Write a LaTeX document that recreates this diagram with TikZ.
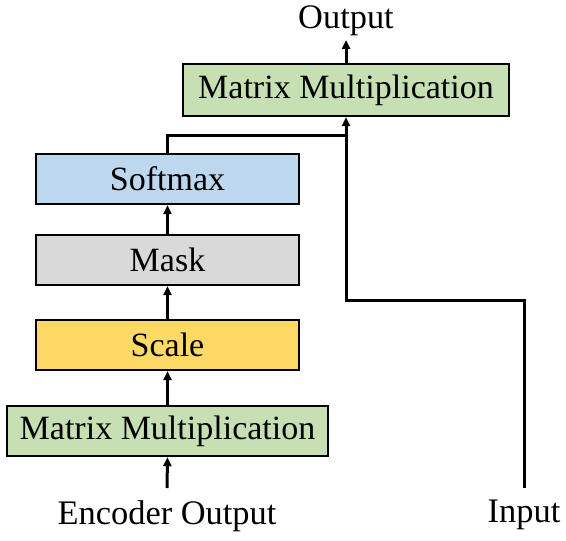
\documentclass[tikz,border=0pt]{standalone}
\usepackage{fontspec}
\setmainfont{Liberation Serif}
\usepackage{xcolor}
\usetikzlibrary{arrows.meta, positioning}

\definecolor{mmgreen}{RGB}{198,224,180}
\definecolor{smblue}{RGB}{189,215,238}
\definecolor{mkgray}{RGB}{217,217,217}
\definecolor{scyellow}{RGB}{255,217,102}

\tikzset{
  block/.style={draw=black, line width=1.2pt, minimum height=25pt, inner sep=2pt, font=\fontsize{17}{20}\selectfont},
  lbl/.style={inner sep=2pt, font=\fontsize{17.2}{20}\selectfont},
  arr/.style={line width=1.5pt, -{Triangle[length=4.5pt,width=4pt]}},
  wire/.style={line width=1.5pt}
}

\begin{document}
\begin{tikzpicture}[x=0.5pt, y=-0.5pt]
\useasboundingbox (0,0) rectangle (566,540);

% left column
\node[block, fill=mmgreen, minimum width=160.5pt] (mm1) at (167.5,431) {Matrix Multiplication};
\node[block, fill=scyellow, minimum width=131.5pt] (scale) at (167.5,345) {Scale};
\node[block, fill=mkgray, minimum width=131.5pt] (mask) at (167.5,260) {Mask};
\node[block, fill=smblue, minimum width=131.5pt] (softmax) at (167.5,179) {Softmax};

% top block
\node[block, fill=mmgreen, minimum width=163pt, minimum height=26pt] (mm2) at (346,90) {Matrix Multiplication};

% labels
\node[lbl, anchor=south] (out) at (346,40) {Output};
\node[lbl, anchor=north, inner ysep=6pt] (enc) at (167,488) {Encoder Output};
\node[lbl, anchor=north, inner ysep=6pt] (in) at (524,488) {Input};

\coordinate (join) at (346,135);
\coordinate (bend) at (524,300);

% connectors
\draw[arr] (enc.north) -- (mm1.south);
\draw[arr] (mm1.north) -- (scale.south);
\draw[arr] (scale.north) -- (mask.south);
\draw[arr] (mask.north) -- (softmax.south);
\draw[wire] (softmax.north) |- (join);
\draw[arr] (in.north) -- (bend) -| (mm2.south);
\draw[arr] (mm2.north) -- (out.south);
\end{tikzpicture}
\end{document}
